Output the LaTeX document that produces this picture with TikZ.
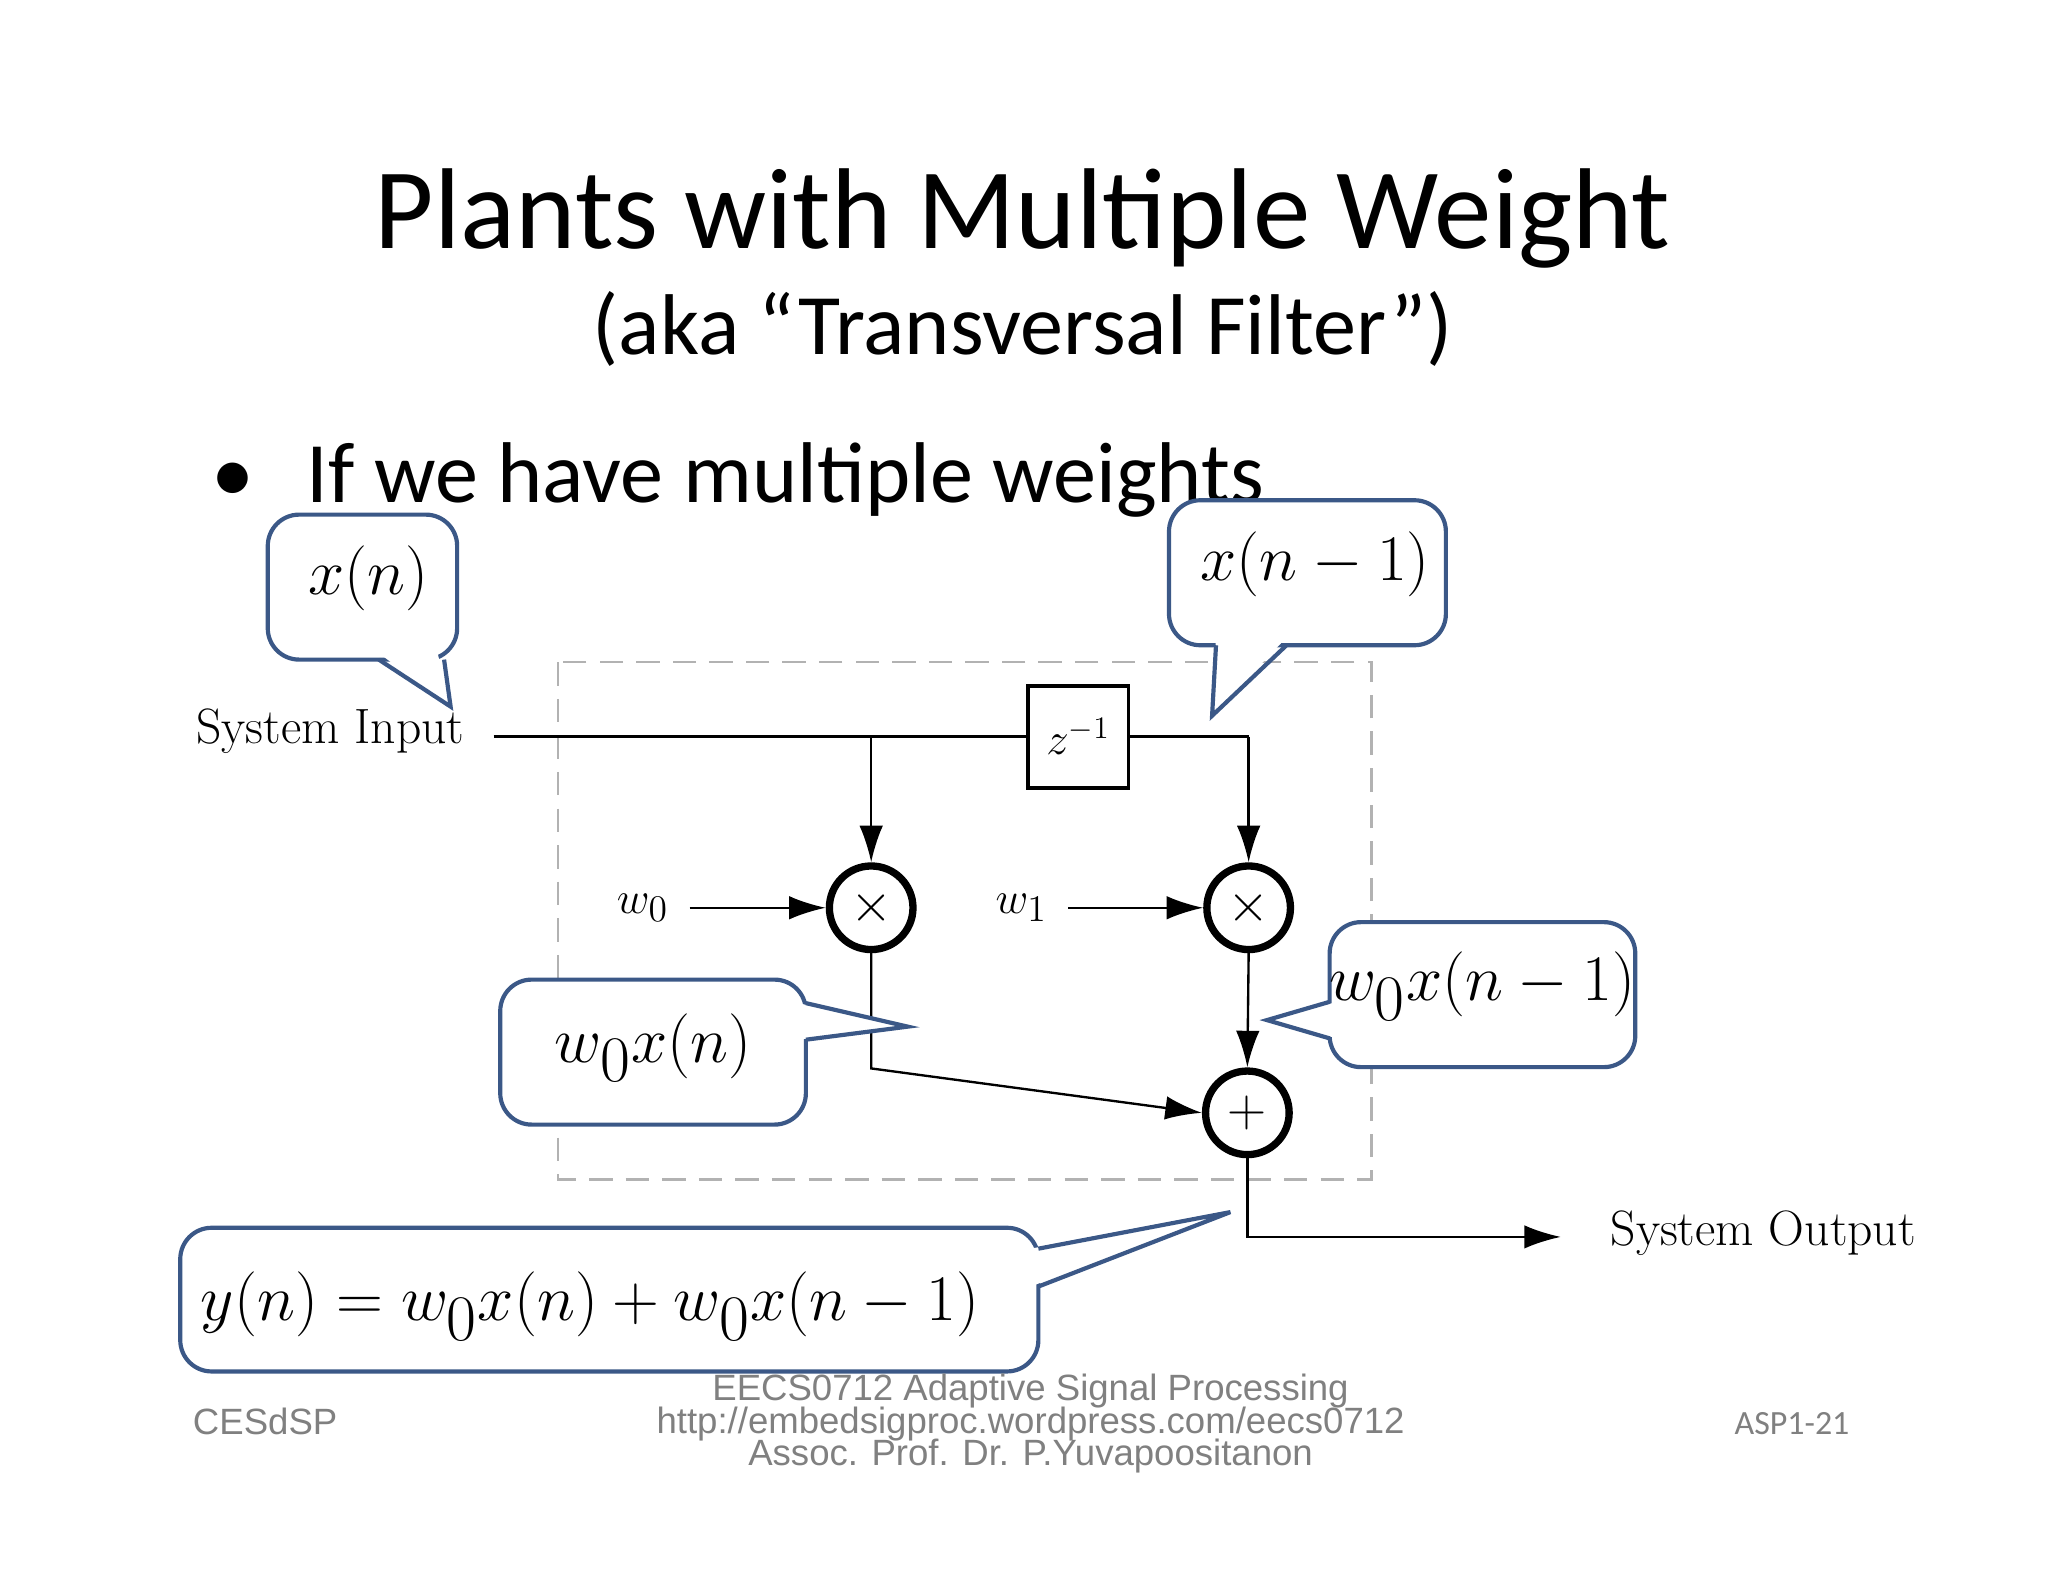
\documentclass[tikz,border=0pt]{standalone}
\usepackage{fontspec}
\usetikzlibrary{arrows.meta}
\newfontfamily\calib{Carlito}
\newfontfamily\arialf{Liberation Sans}
\begin{document}
\begin{tikzpicture}[x=0.5pt,y=-0.5pt,
  opnode/.style={circle,draw,line width=2.8pt,minimum size=32pt,inner sep=0pt,font=\fontsize{22}{24}\selectfont},
  sig/.style={line width=0.9pt},
  arr/.style={sig,-{Latex[length=14pt,width=9pt]}},
  callout/.style={draw=calcol,line width=1.6pt,fill=white,rounded corners=12pt},
  mathlbl/.style={font=\fontsize{34}{38}\selectfont},
  syslbl/.style={font=\fontsize{19}{22}\selectfont}]
\definecolor{calcol}{HTML}{3B5887}
\useasboundingbox (0,0) rectangle (1568,1211);
% titles
\node[font=\calib\fontsize{44}{50}\selectfont] (title) at (783,167) {Plants with Multiple Weight};
\node[font=\calib\fontsize{33}{38}\selectfont] (sub) at (783,252) {(aka “Transversal Filter”)};
\node[font=\calib\fontsize{33}{38}\selectfont,anchor=base west] (bul) at (155,385) {•\hspace{20pt}If we have multiple weights};
% dashed box
\draw[gray!60,dashed,line width=0.9pt,dash pattern=on 9pt off 5pt] (427,507) rectangle (1050,903);
% blocks
\node[draw,line width=1.5pt,minimum width=38.5pt,minimum height=39pt,font=\fontsize{17}{20}\selectfont] (z) at (825.5,564) {$z^{-1}$};
\node[opnode] (m0) at (667,695) {$\times$};
\node[opnode] (m1) at (956,695) {$\times$};
\node[opnode] (ad) at (955,852) {$+$};
\node[syslbl] (sin) at (253,560) {System Input};
\node[syslbl] (sout) at (1350,944) {System Output};
\node[font=\fontsize{19}{22}\selectfont] (w0) at (492,695) {$w_0$};
\node[font=\fontsize{19}{22}\selectfont] (w1) at (782,695) {$w_1$};
\coordinate (br) at (667,564);
\coordinate (c1) at (956,564);
\coordinate (c0) at (667,818);
\coordinate (co) at (955,947);
\draw[sig] (378,564) -- (br) -- (z.west);
\draw[sig] (z.east) -- (c1);
\draw[arr] (br) -- (m0.north);
\draw[arr] (c1) -- (m1.north);
\draw[arr] (528,695) -- (m0.west);
\draw[arr] (818,695) -- (m1.west);
\draw[arr] (m0.south) -- (c0) -- (ad.west);
\draw[arr] (m1.south) -- (ad.north);
\draw[arr] (ad.south) -- (co) -- (1195,947);
% callouts
\draw[callout] (205,394) rectangle (350,505);
\fill[white] (290,500) -- (345,541) -- (335,500) -- cycle;
\draw[calcol,line width=1.6pt] (290,505) -- (345,541) -- (340,505);
\node[mathlbl] (lx) at (282,443) {$x(n)$};

\draw[callout] (895,383) rectangle (1107,494);
\fill[white] (931,488) -- (928,548) -- (985,488) -- cycle;
\draw[calcol,line width=1.6pt] (931,494) -- (928,548) -- (985,494);
\node[mathlbl] (lx1) at (1007,432) {$x(n-1)$};

\draw[callout] (383,750) rectangle (617,861);
\fill[white] (611,768) -- (695,786) -- (611,796) -- cycle;
\draw[calcol,line width=1.6pt] (617,768) -- (695,786) -- (617,796);
\node[mathlbl] (lw0) at (500,802) {$w_0x(n)$};

\draw[callout] (1018,706) rectangle (1252,817);
\fill[white] (1024,767) -- (970,781) -- (1024,795) -- cycle;
\draw[calcol,line width=1.6pt] (1018,767) -- (970,781) -- (1018,795);
\node[mathlbl] (lw1) at (1135,755) {$w_0x(n-1)$};

\draw[callout] (138,940) rectangle (795,1050);
\fill[white] (789,956) -- (942,928) -- (789,985) -- cycle;
\draw[calcol,line width=1.6pt] (795,956) -- (942,928) -- (795,985);
\node[mathlbl] (ly) at (452,1000) {$y(n)=w_0x(n)+w_0x(n-1)$};
% footer
\node[font=\arialf\fontsize{14}{16}\selectfont,text=gray] (f1) at (203,1088) {CESdSP};
\node[font=\arialf\fontsize{14}{16}\selectfont,text=gray] (f2) at (789,1065) {EECS0712 Adaptive Signal Processing};
\node[font=\arialf\fontsize{14}{16}\selectfont,text=gray] (f3) at (789,1090) {http://embedsigproc.wordpress.com/eecs0712};
\node[font=\arialf\fontsize{14}{16}\selectfont,text=gray] (f4) at (789,1115) {Assoc. Prof. Dr. P.Yuvapoositanon};
\node[font=\calib\fontsize{13}{15}\selectfont,text=gray] (f5) at (1372,1090) {ASP1-21};
\end{tikzpicture}
\end{document}
